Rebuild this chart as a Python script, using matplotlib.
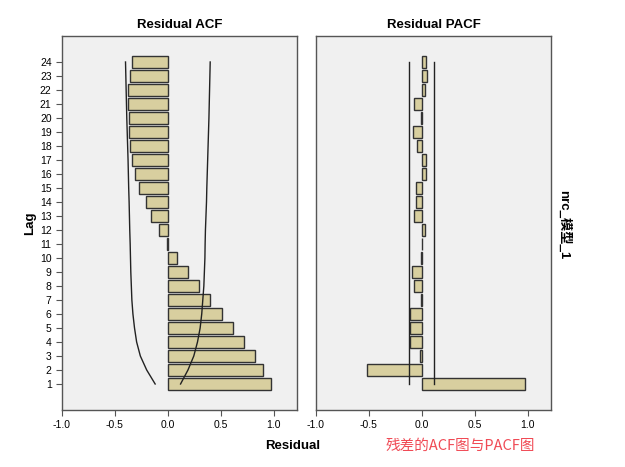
import matplotlib
matplotlib.use("Agg")
import matplotlib.pyplot as plt

plt.rcParams['font.family'] = ['DejaVu Sans', 'Noto Sans CJK SC']

lags = list(range(1, 25))

acf = [0.97, 0.90, 0.82, 0.72, 0.62, 0.51, 0.40, 0.29, 0.19, 0.085, -0.005, -0.085,
       -0.16, -0.21, -0.27, -0.31, -0.335, -0.36, -0.37, -0.37, -0.38, -0.375, -0.36, -0.34]
acf_upper = [0.12, 0.19, 0.245, 0.28, 0.305, 0.32, 0.33, 0.34, 0.345, 0.35, 0.352, 0.355,
             0.36, 0.365, 0.368, 0.372, 0.376, 0.38, 0.384, 0.388, 0.391, 0.394, 0.397, 0.40]
acf_lower = [-0.12, -0.2, -0.26, -0.295, -0.315, -0.33, -0.34, -0.345, -0.35, -0.353, -0.356, -0.36,
             -0.363, -0.366, -0.37, -0.373, -0.376, -0.38, -0.384, -0.388, -0.391, -0.394, -0.397, -0.40]

pacf = [0.97, -0.52, -0.015, -0.11, -0.11, -0.11, -0.01, -0.075, -0.09, -0.005, 0.005, 0.03,
        -0.07, -0.055, -0.06, 0.035, 0.035, -0.05, -0.08, -0.01, -0.07, 0.025, 0.05, 0.04]
pacf_upper = 0.116
pacf_lower = -0.123

xticks = [-1.0, -0.5, 0.0, 0.5, 1.0]

bar_color = '#d8cf9f'
panel_bg = '#f0f0f0'

fig = plt.figure(figsize=(6.25, 4.67), dpi=100)
ax1 = fig.add_axes([0.0992, 0.122, 0.376, 0.801])
ax2 = fig.add_axes([0.5056, 0.122, 0.376, 0.801])

for ax, vals, title in [(ax1, acf, 'Residual ACF'), (ax2, pacf, 'Residual PACF')]:
    ax.set_facecolor(panel_bg)
    ax.barh(lags, vals, height=0.82, color=bar_color, edgecolor='#333333', linewidth=1.0)
    ax.set_xlim(-1.0, 1.22)
    ax.set_ylim(-0.86, 25.86)
    ax.set_xticks(xticks)
    ax.set_xticklabels(['%.1f' % t for t in xticks], fontsize=7.5, family='Liberation Sans')
    ax.set_title(title, fontsize=9.5, fontweight='bold', family='Liberation Sans', pad=6)
    for s in ax.spines.values():
        s.set_color('#555555')
        s.set_linewidth(1.0)
    ax.tick_params(axis='both', direction='out', length=4, color='#555555', width=0.8)

ax1.set_yticks(lags)
ax1.set_yticklabels([str(l) for l in lags], fontsize=7.5, family='Liberation Sans')
ax1.plot(acf_upper, lags, color='#222222', linewidth=1.0)
ax1.plot(acf_lower, lags, color='#222222', linewidth=1.0)
ax1.set_ylabel('Lag', fontsize=9.5, fontweight='bold', family='Liberation Sans', labelpad=3)

ax2.set_yticks([])
ax2.plot([pacf_upper, pacf_upper], [lags[0], lags[-1]], color='#222222', linewidth=1.0)
ax2.plot([pacf_lower, pacf_lower], [lags[0], lags[-1]], color='#222222', linewidth=1.0)

fig.text(0.469, 0.046, 'Residual', fontsize=9.5, fontweight='bold', family='Liberation Sans',
         ha='center', va='center')
fig.text(0.736, 0.046, '残差的ACF图与PACF图', fontsize=10.5, color='#f04a55',
         family=['Noto Sans CJK SC', 'DejaVu Sans'], ha='center', va='center')
fig.text(0.902, 0.52, 'nrc_模型_1', fontsize=9.5, fontweight='bold', rotation=-90,
         family=['Liberation Sans', 'Noto Sans CJK SC'], ha='center', va='center')

fig.savefig('out.png', dpi=100, facecolor='white')
